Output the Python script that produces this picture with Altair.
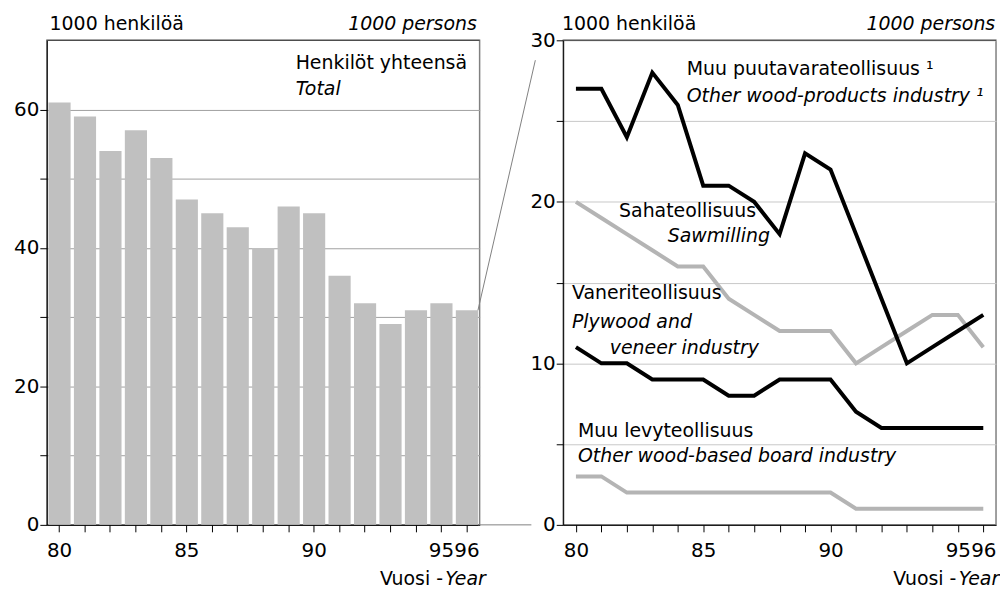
import altair as alt
import pandas as pd

# ---------------- data ----------------
years = list(range(80, 97))
total = [61, 59, 54, 57, 53, 47, 45, 43, 40, 46, 45, 36, 32, 29, 31, 32, 31]
other_wood = [27, 27, 24, 28, 26, 21, 21, 20, 18, 23, 22, 18, 14, 10, 11, 12, 13]
sawmilling = [20, 19, 18, 17, 16, 16, 14, 13, 12, 12, 12, 10, 11, 12, 13, 13, 11]
plywood = [11, 10, 10, 9, 9, 9, 8, 8, 9, 9, 9, 7, 6, 6, 6, 6, 6]
board = [3, 3, 2, 2, 2, 2, 2, 2, 2, 2, 2, 1, 1, 1, 1, 1, 1]
x_labels = [80, 85, 90, 95, 96]
left_ticks = [0, 10, 20, 30, 40, 50, 60]
left_max = 70
right_ticks = [0, 5, 10, 15, 20, 25, 30]
right_max = 30

FONT = "DejaVu Sans"
W, H = 435, 487
BLACK = "#000000"
GREY_LINE = "#b4b4b4"
BAR = "#c0c0c0"

label_expr = "indexof(" + str(x_labels) + ", datum.value) >= 0 ? datum.label : ''"

x_axis = alt.Axis(title=None, labelAngle=0, labelExpr=label_expr, labelOverlap=False,
                  tickSize=7, labelPadding=9, grid=False, domainColor=BLACK,
                  tickColor=BLACK, labelFontSize=20, labelColor=BLACK)


def y_axis(vals, step_label, grid_color):
    return alt.Axis(title=None, values=vals, grid=True, gridColor=grid_color,
                    labelExpr="datum.value % " + str(step_label) + " == 0 ? datum.label : ''",
                    tickSize=7, labelPadding=1, domainColor=BLACK, tickColor=BLACK,
                    labelFontSize=20, labelColor=BLACK, minExtent=33, maxExtent=33)


def panel_enc(ymax, ticks, step_label, grid_color, bar=False):
    if bar:
        xs = alt.Scale(domain=years, paddingInner=0.13, paddingOuter=0.065)
    else:
        xs = alt.Scale(domain=years, padding=0.5)
    x = alt.X("year:O", scale=xs, axis=x_axis)
    y = alt.Y("value:Q", scale=alt.Scale(domain=[0, ymax], nice=False, zero=True),
              axis=y_axis(ticks, step_label, grid_color))
    return x, y, xs


def text_layer(text, year, value, x_enc, y_enc, dx=0, dy=0, italic=False, align="left", size=19):
    df = pd.DataFrame({"year": [year], "value": [value], "text": [text]})
    return alt.Chart(df).mark_text(
        font=FONT, fontSize=size, fontStyle="italic" if italic else "normal",
        align=align, baseline="alphabetic", dx=dx, dy=dy, color=BLACK
    ).encode(x=x_enc, y=y_enc, text="text:N")


# ---------------- left panel ----------------
lx, ly, lxs = panel_enc(left_max, left_ticks, 20, "#a0a0a0", bar=True)
left_df = pd.DataFrame({"year": years, "value": total})

bars = alt.Chart(left_df).mark_bar(color=BAR).encode(x=lx, y=ly)
left_top = alt.Chart(pd.DataFrame({"value": [left_max]})).mark_rule(
    color="#404040", strokeWidth=1).encode(y=ly)
conn_df = pd.DataFrame({"year": [years[-1]], "value": [total[-1]]})
connector = alt.Chart(conn_df).mark_rule(color="#808080", strokeWidth=1).encode(
    x=alt.X("year:O", scale=lxs, axis=x_axis, bandPosition=1),
    y=ly, x2=alt.value(W + 56), y2=alt.value(20))
base_df = pd.DataFrame({"year": [years[-1]], "value": [0]})
base_line = alt.Chart(base_df).mark_rule(color="#808080", strokeWidth=1).encode(
    x=alt.X("year:O", scale=lxs, axis=x_axis, bandPosition=1),
    y=ly, x2=alt.value(W + 52))

left = alt.layer(
    bars, left_top, connector, base_line,
    text_layer("1000 henkilöä", 80, left_max, lx, ly, dx=-10, dy=-10),
    text_layer("1000 persons", 96, left_max, lx, ly, dx=10, dy=-10, italic=True, align="right"),
    text_layer("Henkilöt yhteensä", 89, 65.8, lx, ly, dx=7),
    text_layer("Total", 89, 62.1, lx, ly, dx=7, italic=True),
    text_layer("Year", 96, 0, lx, ly, dx=19, dy=60, italic=True, align="right"),
    text_layer("Vuosi -", 96, 0, lx, ly, dx=-24, dy=60, align="right"),
).properties(width=W, height=H)

# ---------------- right panel ----------------
rx, ry, rxs = panel_enc(right_max, right_ticks, 10, "#c8c8c8")
series = [
    ("Sahateollisuus", sawmilling, GREY_LINE),
    ("Muu levyteollisuus", board, GREY_LINE),
    ("Vaneriteollisuus", plywood, BLACK),
    ("Muu puutavarateollisuus", other_wood, BLACK),
]
rows = []
for order, (name, vals, col) in enumerate(series):
    for yr, v in zip(years, vals):
        rows.append({"year": yr, "value": v, "series": name, "col": col, "ord": order})
line_df = pd.DataFrame(rows)

lines = alt.Chart(line_df).mark_line(strokeWidth=4, strokeJoin="miter", strokeCap="butt").encode(
    x=rx, y=ry,
    detail="series:N",
    color=alt.Color("col:N", scale=None),
    order=alt.Order("ord:Q"),
)
right_top = alt.Chart(pd.DataFrame({"value": [right_max]})).mark_rule(
    color="#404040", strokeWidth=1).encode(y=ry)

right = alt.layer(
    lines, right_top,
    text_layer("1000 henkilöä", 80, right_max, rx, ry, dx=-14, dy=-10),
    text_layer("1000 persons", 96, right_max, rx, ry, dx=12, dy=-10, italic=True, align="right"),
    text_layer("Muu puutavarateollisuus ¹", 84, 27.85, rx, ry, dx=9),
    text_layer("Other wood-products industry ¹", 84, 26.2, rx, ry, dx=9, italic=True),
    text_layer("Sahateollisuus", 87, 19.04, rx, ry, dx=2, align="right"),
    text_layer("Sawmilling", 87, 17.5, rx, ry, dx=16, italic=True, align="right"),
    text_layer("Vaneriteollisuus", 80, 14.0, rx, ry, dx=-4),
    text_layer("Plywood and", 80, 12.2, rx, ry, dx=-4, italic=True),
    text_layer("veneer industry", 80, 10.6, rx, ry, dx=34, italic=True),
    text_layer("Muu levyteollisuus", 80, 5.42, rx, ry, dx=2),
    text_layer("Other wood-based board industry", 80, 3.88, rx, ry, dx=2, italic=True),
    text_layer("Year", 96, 0, rx, ry, dx=16, dy=60, italic=True, align="right"),
    text_layer("Vuosi -", 96, 0, rx, ry, dx=-27, dy=60, align="right"),
).properties(width=W, height=H)

chart = alt.hconcat(left, right, spacing=84, bounds="flush").properties(
    padding={"left": 4, "top": 5, "right": 0, "bottom": 0}
).configure(font=FONT).configure_view(stroke="#808080", strokeWidth=1.5)

chart.save("out.html", embed_options={"renderer": "svg", "actions": False})
